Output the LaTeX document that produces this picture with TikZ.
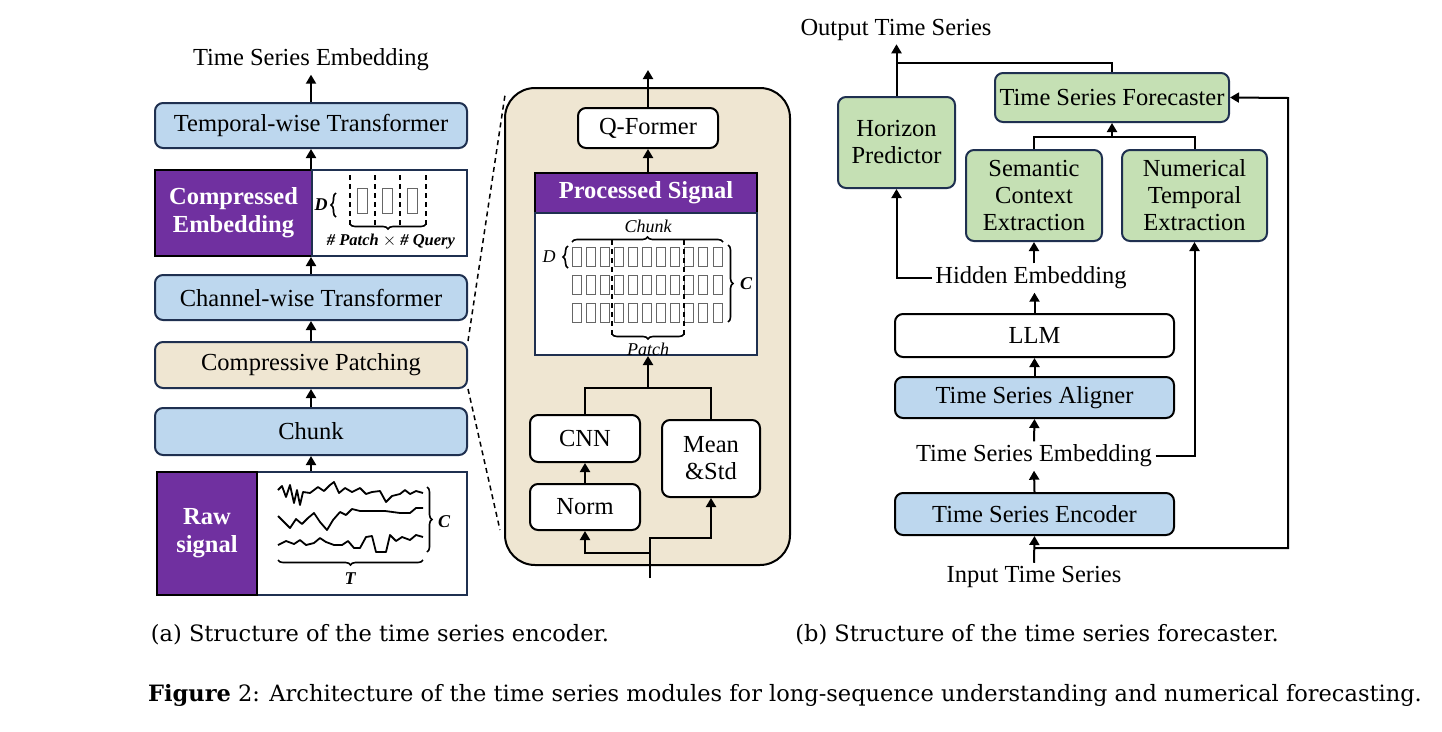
\documentclass[tikz,border=0pt]{standalone}
\usepackage{fontspec}
\setmainfont{Liberation Serif}
\newfontfamily\capfont{DejaVu Serif}
\usetikzlibrary{arrows.meta,decorations.pathreplacing}
\definecolor{bblue}{HTML}{BDD7EE}
\definecolor{beige}{HTML}{EFE6D2}
\definecolor{purp}{HTML}{7030A0}
\definecolor{gfill}{HTML}{C5E0B4}
\definecolor{navy}{HTML}{1F3050}
\tikzset{
  x=1pt,y=-1pt,
  every node/.style={font=\fontsize{24.5}{27}\selectfont},
  box/.style={draw=navy,line width=2pt,rounded corners=8pt,inner sep=0pt,align=center},
  bl/.style={box,fill=bblue},
  wb/.style={box,draw=black,fill=white},
  gb/.style={box,fill=gfill},
  pb/.style={draw=black,line width=2pt,fill=purp,text=white,font=\fontsize{24.5}{28}\selectfont\bfseries,inner sep=0pt,align=center},
  fr/.style={draw=navy,line width=2pt,fill=white,inner sep=0pt},
  arr/.style={line width=2pt,-{Triangle[width=10pt,length=9pt]}},
  ln/.style={line width=2pt},
  dsh/.style={line width=1.5pt,dash pattern=on 5pt off 4pt},
  sig/.style={line width=1.8pt,line join=round},
  cell/.style={draw=black!60,line width=1pt},
  brc/.style={line width=1.6pt,decorate,decoration={brace,amplitude=5pt}},
  sm/.style={font=\fontsize{18}{20}\selectfont\itshape},
  smb/.style={font=\fontsize{18}{20}\selectfont\bfseries\itshape},
}
\begin{document}
\begin{tikzpicture}
\useasboundingbox[fill=white] (0,0) rectangle (1442,731);
% ---------------- left column ----------------
\node (tse) at (311,60) {Time Series Embedding};
\node[bl,minimum width=312pt,minimum height=45pt] (temp) at (311,125.5) {Temporal-wise Transformer};
\node[pb,minimum width=157pt,minimum height=86pt] (cemb) at (233.5,213) {Compressed\\Embedding};
\node[fr,minimum width=155pt,minimum height=86pt] (cfr) at (389.5,213) {};
\node[bl,minimum width=312pt,minimum height=45pt] (chan) at (311,297.5) {Channel-wise Transformer};
\node[box,fill=beige,minimum width=312pt,minimum height=46pt] (cp) at (311,365) {Compressive Patching};
\node[bl,minimum width=312pt,minimum height=47pt] (chunk) at (311,431.5) {Chunk};
\node[fr,minimum width=210pt,minimum height=123pt] (rfr) at (362,533.5) {};
\node[pb,minimum width=100pt,minimum height=123pt] (raw) at (207,533.5) {Raw\\signal};
\draw[arr] (temp.north) -- (tse.south);
\draw[arr] (chan.north) -- (chan.north |- cfr.south);
\draw[arr] (cp.north) -- (chan.south);
\draw[arr] (chunk.north) -- (cp.south);
\draw[arr] (chunk.north |- rfr.north) -- (chunk.south);
\draw[arr] (chan.north |- cfr.north) -- (temp.south);
% compressed embedding details
\node[smb] (dl) at (321,205) {D};
\draw[brc] (336,217) -- (336,193);
\foreach \x in {350,375,400,426} \draw[dsh] (\x,175) -- (\x,225);
\foreach \x in {357,382,407} \draw[cell] (\x,188) rectangle ++(10,25);
\draw[brc] (426,224) -- (350,224);
\node[smb,font=\fontsize{16.5}{19}\selectfont\bfseries\itshape] (pq) at (391,242) {\# Patch $\times$ \# Query};
% raw signal
\draw[sig] (278,490) -- (282,486) -- (286,497) -- (290,485) -- (294,503) -- (297,490) -- (300,505) -- (303,492) -- (310,493) -- (318,487) -- (324,491) -- (330,485) -- (334,482) -- (339,493) -- (345,488) -- (352,492) -- (360,488) -- (366,494) -- (372,492) -- (380,491) -- (386,502) -- (392,496) -- (400,494) -- (405,490) -- (410,494) -- (416,491) -- (423,493);
\draw[sig] (278,516) -- (284,522) -- (290,528) -- (296,519) -- (302,524) -- (308,518) -- (314,513) -- (320,522) -- (327,530) -- (333,520) -- (340,512) -- (346,515) -- (352,509) -- (360,511) -- (370,511) -- (385,511) -- (400,513) -- (410,513) -- (416,508) -- (423,508);
\draw[sig] (278,545) -- (286,541) -- (294,544) -- (300,540) -- (306,545) -- (314,543) -- (320,538) -- (326,542) -- (334,545) -- (342,545) -- (348,541) -- (354,548) -- (360,548) -- (366,537) -- (372,536) -- (376,552) -- (386,552) -- (390,535) -- (396,541) -- (402,537) -- (410,540) -- (416,535) -- (423,537);
\draw[brc] (427,487) -- (427,552);
\node[smb] (cl) at (444,522) {C};
\draw[brc] (423,560) -- (278,560);
\node[smb] (tl) at (350,579) {T};
% dashed zoom lines
\draw[dsh] (cp.north east) -- (505,95);
\draw[dsh] (cp.south east) -- (500,530);
% ---------------- middle panel ----------------
\node[draw=black,line width=2pt,fill=beige,rounded corners=30pt,minimum width=285pt,minimum height=477pt,inner sep=0pt] (panel) at (647.5,326.5) {};
\coordinate (top) at (648,70);
\node[wb,minimum width=140pt,minimum height=40pt] (qf) at (648,128) {Q-Former};
\node[pb,minimum width=222pt,minimum height=40pt] (ps) at (646,193) {Processed Signal};
\node[fr,minimum width=222pt,minimum height=142pt] (psb) at (646,284) {};
\node[wb,minimum width=110pt,minimum height=47pt] (cnn) at (585,438.5) {CNN};
\node[wb,minimum width=98pt,minimum height=77pt] (ms) at (711,458.5) {Mean\\\&Std};
\node[wb,minimum width=110pt,minimum height=46pt] (norm) at (585,507) {Norm};
\draw[arr] (qf.north) -- (top);
\draw[arr] (ps.north -| qf.south) -- (qf.south);
\coordinate (mg) at (648,388);
\coordinate (in) at (650,578);
\draw[ln] (cnn.north) |- (mg) -| (ms.north);
\draw[arr] (mg) -- (mg |- psb.south);
\draw[arr] (norm.north) -- (cnn.south);
\draw[arr] (in) -- (650,553) -| (norm.south);
\draw[arr] (650,554) -- (650,538) -| (ms.south);
% grid
\node[sm] (chl) at (648,226) {Chunk};
\draw[brc] (572,242) -- (723,242);
\foreach \r in {247,275,303}
  \foreach \i in {0,...,10} \draw[cell] (572+\i*14.1,\r) rectangle ++(9,19);
\foreach \x in {612,684} \draw[dsh] (\x,240) -- (\x,335);
\draw[brc] (684,334) -- (612,334);
\node[sm] (pl) at (648,349) {Patch};
\draw[brc] (568,268) -- (568,246);
\node[sm] (dl2) at (549,257) {D};
\draw[brc] (728,245) -- (728,322);
\node[smb] (cl2) at (746,284) {C};
% ---------------- right panel ----------------
\node (ots) at (896,30) {Output Time Series};
\node[gb,minimum width=234pt,minimum height=49pt] (fc) at (1112,97.5) {Time Series Forecaster};
\node[gb,minimum width=117pt,minimum height=91pt] (hp) at (896.5,142.5) {Horizon\\Predictor};
\node[gb,minimum width=136pt,minimum height=91pt] (sce) at (1034,195.5) {Semantic\\Context\\Extraction};
\node[gb,minimum width=145pt,minimum height=91pt] (nte) at (1194.5,195.5) {Numerical\\Temporal\\Extraction};
\node (he) at (1031,278) {Hidden Embedding};
\node[wb,minimum width=279pt,minimum height=43pt] (llm) at (1034.5,335.5) {LLM};
\node[bl,draw=black,minimum width=279pt,minimum height=41pt] (al) at (1034.5,397.5) {Time Series Aligner};
\node (tse2) at (1034,456) {Time Series Embedding};
\node[bl,draw=black,minimum width=279pt,minimum height=42pt] (enc) at (1034.5,514) {Time Series Encoder};
\node (its) at (1034,577) {Input Time Series};
\draw[arr] (hp.north) -- (hp.north |- ots.south);
\draw[ln] (fc.north) |- (897,63);
\coordinate (mg2) at (1112,137);
\draw[ln] (sce.north) |- (mg2) -| (nte.north);
\draw[arr] (mg2) -- (fc.south);
\draw[arr] (he.west) -| (hp.south);
\draw[arr] (sce.south |- he.north) -- (sce.south);
\draw[arr] (llm.north) -- (llm.north |- he.south);
\draw[arr] (al.north) -- (llm.south);
\draw[arr] (tse2.north) -- (al.south);
\draw[arr] (enc.north) -- (tse2.south);
\draw[arr] (tse2.east) -| (nte.south);
\draw[arr] (its.north) -- (enc.south);
\draw[arr] (1034,548) -| (1288,98) -- (fc.east);
% captions
\node[font=\capfont\fontsize{22.5}{26}\selectfont] (capa) at (380,635) {(a) Structure of the time series encoder.};
\node[font=\capfont\fontsize{22.5}{26}\selectfont] (capb) at (1037,635) {(b) Structure of the time series forecaster.};
\node[font=\capfont\fontsize{22.5}{26}\selectfont] (fig) at (785,695) {\textbf{Figure} 2: Architecture of the time series modules for long-sequence understanding and numerical forecasting.};
\end{tikzpicture}
\end{document}
